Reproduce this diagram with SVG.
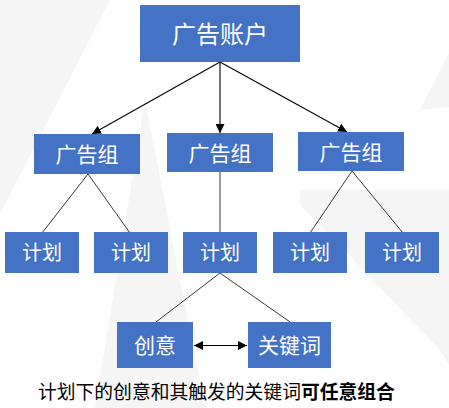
<svg xmlns="http://www.w3.org/2000/svg" width="449" height="408" viewBox="0 0 449 408">
<defs>
<style>
.box{fill:#4472C4;}
.lbl{fill:#fff;font-family:"Noto Sans CJK SC","Noto Sans",sans-serif;text-anchor:middle;}
.arr{stroke:#000;stroke-width:1.1;fill:none;}
.ln{stroke:#222;stroke-width:0.9;fill:none;}
.bg{fill:#f5f5f5;}
</style>
<marker id="ah" viewBox="0 0 10 10" refX="10" refY="5" markerWidth="9" markerHeight="9" markerUnits="userSpaceOnUse" orient="auto-start-reverse">
<path d="M0,0 L10,5 L0,10 Z" fill="#000"/>
</marker>
</defs>
<rect width="449" height="408" fill="#fff"/>
<g id="background">
<polygon class="bg" points="0,0 110,0 0,214"/>
<polygon class="bg" points="449,53 420,110 449,107"/>
<polygon class="bg" points="300,190 449,190 449,365 440,350 300,205"/>
<polygon class="bg" points="145,100 205,408 95,408"/>
</g>
<g id="connectors">
<line class="arr" x1="220" y1="62" x2="92" y2="134" marker-end="url(#ah)"/>
<line class="arr" x1="220" y1="62" x2="220" y2="133" marker-end="url(#ah)"/>
<line class="arr" x1="220" y1="62" x2="347" y2="132" marker-end="url(#ah)"/>
<polyline class="ln" points="42,233 88,174 130,233"/>
<line class="ln" x1="220" y1="172" x2="220" y2="232"/>
<polyline class="ln" points="310,233 352,171 403,233"/>
<polyline class="ln" points="156,322 220,273 290,322"/>
<line class="arr" x1="194" y1="345.5" x2="247" y2="345.5" marker-start="url(#ah)" marker-end="url(#ah)"/>
</g>
<g id="account">
<rect class="box" x="140" y="5" width="160" height="57"/>
<text class="lbl" x="220" y="43" font-size="24">广告账户</text>
</g>
<g id="group1">
<rect class="box" x="34" y="134" width="106" height="40"/>
<text class="lbl" x="87" y="162" font-size="21">广告组</text>
</g>
<g id="group2">
<rect class="box" x="167" y="133" width="106" height="39"/>
<text class="lbl" x="220" y="160.5" font-size="21">广告组</text>
</g>
<g id="group3">
<rect class="box" x="298" y="132" width="106" height="39"/>
<text class="lbl" x="351" y="159.5" font-size="21">广告组</text>
</g>
<g id="plan1">
<rect class="box" x="5" y="232" width="74" height="41"/>
<text class="lbl" x="42" y="260" font-size="20">计划</text>
</g>
<g id="plan2">
<rect class="box" x="94" y="232" width="74" height="41"/>
<text class="lbl" x="131" y="260" font-size="20">计划</text>
</g>
<g id="plan3">
<rect class="box" x="183" y="232" width="74" height="41"/>
<text class="lbl" x="220" y="260" font-size="20">计划</text>
</g>
<g id="plan4">
<rect class="box" x="273" y="232" width="74" height="41"/>
<text class="lbl" x="310" y="260" font-size="20">计划</text>
</g>
<g id="plan5">
<rect class="box" x="365" y="232" width="74" height="41"/>
<text class="lbl" x="402" y="260" font-size="20">计划</text>
</g>
<g id="creative">
<rect class="box" x="117" y="322" width="76" height="46"/>
<text class="lbl" x="155" y="353" font-size="21">创意</text>
</g>
<g id="keyword">
<rect class="box" x="248" y="322" width="83" height="46"/>
<text class="lbl" x="289.5" y="353" font-size="21">关键词</text>
</g>
<g id="caption">
<text x="38" y="399" font-size="18.8" fill="#000" font-family="'Noto Sans CJK SC','Noto Sans',sans-serif">计划下的创意和其触发的关键词<tspan font-weight="bold">可任意组合</tspan></text>
</g>
</svg>
